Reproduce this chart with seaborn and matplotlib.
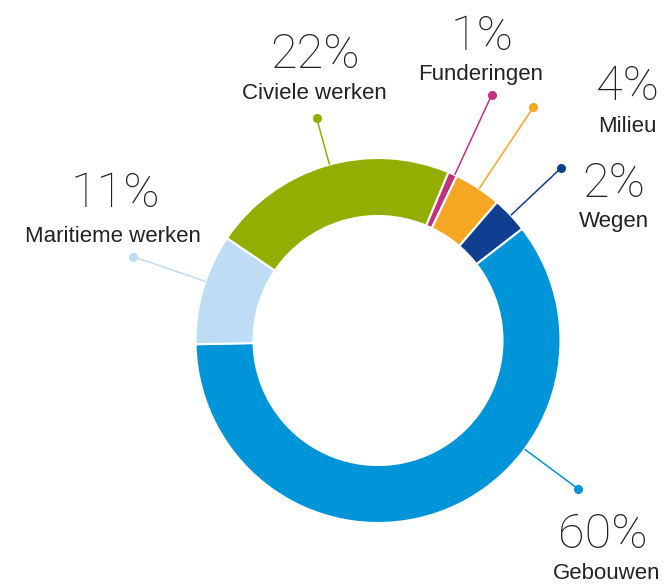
import numpy as np
import matplotlib.pyplot as plt
import seaborn as sns

sns.set_style("white")

# Data: clockwise from the top of the ring
sectors = ['Funderingen', 'Milieu', 'Wegen', 'Gebouwen', 'Maritieme werken', 'Civiele werken']
shares = [0.8, 4.2, 3.2, 60.1, 9.8, 21.8]
pct_labels = ['1%', '4%', '2%', '60%', '11%', '22%']
colors = ['#c2317f', '#f6a623', '#103e91', '#0095d8', '#bedcf4', '#93ae00']

# Label layout in image pixels (from top-left)
dots = [(491.7, 95), (533.3, 107.3), (560.7, 168.3), (578.3, 489), (133.3, 256.7), (316.7, 118.3)]
pct_x = [482, 627, 614, 603, 115, 315]
name_x = [481, 627, 614, 607, 113, 314]
pct_y = [50, 100, 197, 548, 207, 68]
name_y = [80, 132, 227, 579, 242, 99]

W, H = 664, 585
cx, cy = 378, H - 340.5
R, ring = 182.5, 58

fig = plt.figure(figsize=(W / 100, H / 100), dpi=100)
ax = fig.add_axes([0, 0, 1, 1])

ax.pie(shares, colors=colors, startangle=67.3, counterclock=False,
       center=(cx, cy), radius=R,
       wedgeprops=dict(width=ring, edgecolor='white', linewidth=1.5))

txt = '#222222'
for i, name in enumerate(sectors):
    col = colors[i]
    dx, dy = dots[i][0], H - dots[i][1]
    # leader line runs radially from the ring edge out to the dot
    a = np.arctan2(dy - cy, dx - cx)
    sx, sy = cx + R * np.cos(a), cy + R * np.sin(a)
    ax.plot([sx, dx], [sy, dy], color=col, lw=1.1, solid_capstyle='butt')
    ax.plot(dx, dy, 'o', color=col, ms=5.5)
    ax.text(pct_x[i], H - pct_y[i], pct_labels[i], ha='center', va='baseline', fontsize=35,
            family='Roboto', fontweight='light', color=txt)
    ax.text(name_x[i], H - name_y[i], name, ha='center', va='baseline', fontsize=16,
            family='Liberation Sans', color=txt)

ax.set_xlim(0, W)
ax.set_ylim(0, H)
ax.set_aspect('equal')
ax.axis('off')

plt.savefig('out.png', dpi=100, facecolor='white')
plt.close()
